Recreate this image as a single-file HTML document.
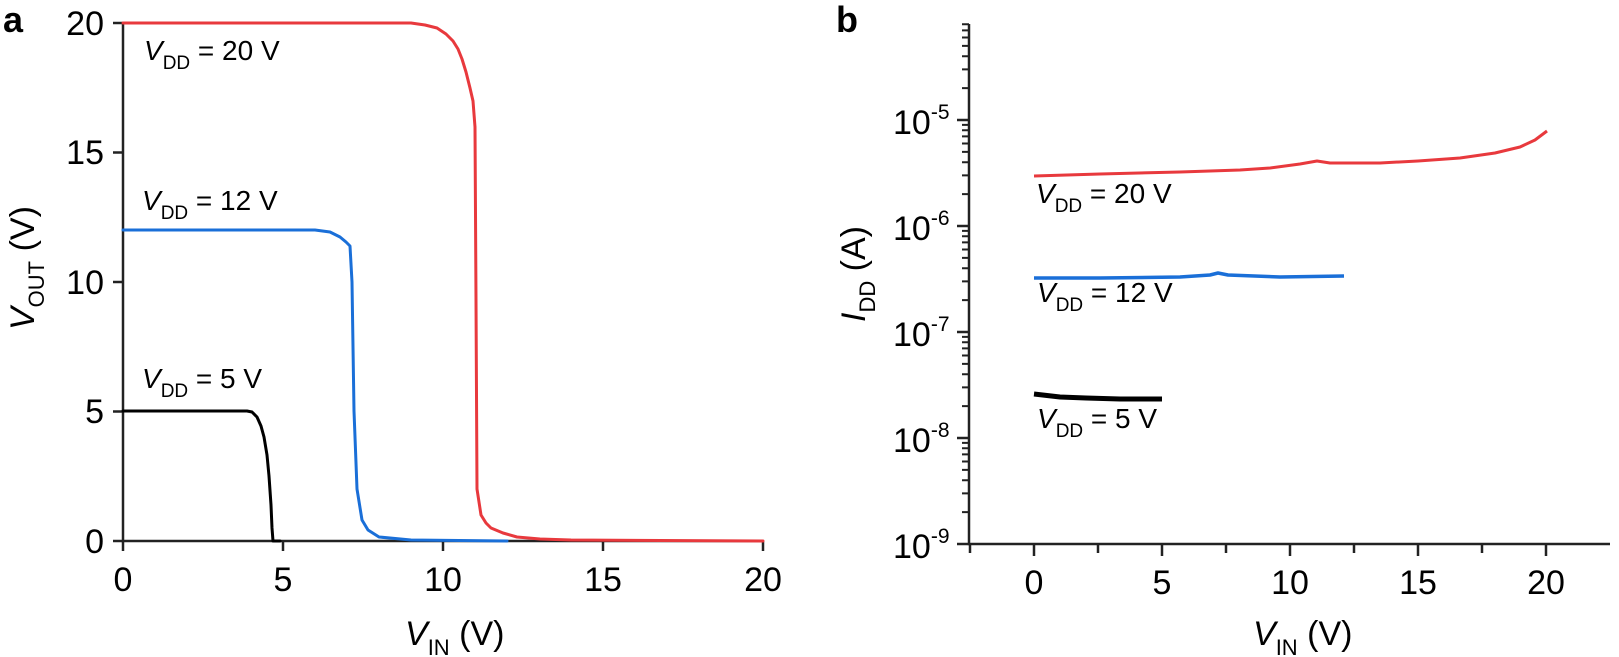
<!DOCTYPE html>
<html><head><meta charset="utf-8"><style>
html,body{margin:0;padding:0;background:#fff}
svg{display:block}
text{font-family:"Liberation Sans",Arial,sans-serif;fill:#000}
</style></head><body>
<svg width="1619" height="657" viewBox="0 0 1619 657" xmlns="http://www.w3.org/2000/svg">
<!-- Panel a -->
<text x="3" y="32" font-size="36" font-weight="bold">a</text>
<g stroke="#222" stroke-width="2.5" fill="none">
<path d="M123 23V541H763"/>
<path d="M113 23h10 M113 152.5h10 M113 282h10 M113 411.5h10 M113 541h10"/>
<path d="M123 541v10 M283 541v10 M443 541v10 M603 541v10 M763 541v10"/>
</g>
<g font-size="34" text-anchor="end">
<text x="104" y="35">20</text>
<text x="104" y="164">15</text>
<text x="104" y="294">10</text>
<text x="104" y="423">5</text>
<text x="104" y="553">0</text>
</g>
<g font-size="34" text-anchor="middle">
<text x="123" y="591">0</text>
<text x="283" y="591">5</text>
<text x="443" y="591">10</text>
<text x="603" y="591">15</text>
<text x="763" y="591">20</text>
</g>
<text x="405" y="645" font-size="34"><tspan font-style="italic">V</tspan><tspan font-size="22" dy="10">IN</tspan><tspan dy="-10"> (V)</tspan></text>
<text transform="translate(34,330) rotate(-90)" font-size="34"><tspan font-style="italic">V</tspan><tspan font-size="22" dy="10">OUT</tspan><tspan dy="-10"> (V)</tspan></text>
<g font-size="28">
<text x="144" y="60"><tspan font-style="italic">V</tspan><tspan font-size="19" dy="9">DD</tspan><tspan dy="-9"> = 20 V</tspan></text>
<text x="142" y="210"><tspan font-style="italic">V</tspan><tspan font-size="19" dy="9">DD</tspan><tspan dy="-9"> = 12 V</tspan></text>
<text x="142" y="388"><tspan font-style="italic">V</tspan><tspan font-size="19" dy="9">DD</tspan><tspan dy="-9"> = 5 V</tspan></text>
</g>
<g fill="none" stroke-width="3" stroke-linejoin="round" stroke-linecap="round">
<polyline stroke="#e8393d" points="123,23 411,23 425,25 437,28 446,34 453,41 458,49 462,59 466,72 470,88 473,101 475,127 476,300 477,489 481,515 486,523 491,528 503,533 517,537 540,539 571,540 763,541"/>
<polyline stroke="#1a6fd8" points="123,230 315,230 330,232 340,237 346,242 350,246 352,282 354,411 357,489 362,520 368,530 379,537 411,540 507,541"/>
<polyline stroke="#000" points="123,411 247,411 252,412 257,417 261,426 264,437 267,455 269,476 271,505 272,528 273,541 280,541"/>
</g>

<!-- Panel b -->
<text x="836" y="32" font-size="36" font-weight="bold">b</text>
<g stroke="#222" stroke-width="2.5" fill="none">
<path d="M969 24V544H1610"/>
<path d="M957 544h12 M957 438h12 M957 332h12 M957 226h12 M957 120h12"/>
<path d="M1034 544v12 M1162 544v12 M1290 544v12 M1418 544v12 M1546 544v12"/>
<path d="M970 544v9 M1098 544v9 M1226 544v9 M1354 544v9 M1482 544v9"/>
</g>
<g stroke="#222" stroke-width="2" fill="none">
<g transform="translate(0,544)"><path d="M962 -31.9h7M962 -50.6h7M962 -63.8h7M962 -74.1h7M962 -82.5h7M962 -89.6h7M962 -95.7h7M962 -101.1h7"/></g>
<g transform="translate(0,438)"><path d="M962 -31.9h7M962 -50.6h7M962 -63.8h7M962 -74.1h7M962 -82.5h7M962 -89.6h7M962 -95.7h7M962 -101.1h7"/></g>
<g transform="translate(0,332)"><path d="M962 -31.9h7M962 -50.6h7M962 -63.8h7M962 -74.1h7M962 -82.5h7M962 -89.6h7M962 -95.7h7M962 -101.1h7"/></g>
<g transform="translate(0,226)"><path d="M962 -31.9h7M962 -50.6h7M962 -63.8h7M962 -74.1h7M962 -82.5h7M962 -89.6h7M962 -95.7h7M962 -101.1h7"/></g>
<g transform="translate(0,120)"><path d="M962 -31.9h7M962 -50.6h7M962 -63.8h7M962 -74.1h7M962 -82.5h7M962 -89.6h7M962 -95.7h7"/></g>
</g>
<g font-size="34">
<text x="893" y="134">10<tspan font-size="21" dy="-15">-5</tspan></text>
<text x="893" y="240">10<tspan font-size="21" dy="-15">-6</tspan></text>
<text x="893" y="346">10<tspan font-size="21" dy="-15">-7</tspan></text>
<text x="893" y="452">10<tspan font-size="21" dy="-15">-8</tspan></text>
<text x="893" y="558">10<tspan font-size="21" dy="-15">-9</tspan></text>
</g>
<g font-size="34" text-anchor="middle">
<text x="1034" y="594">0</text>
<text x="1162" y="594">5</text>
<text x="1290" y="594">10</text>
<text x="1418" y="594">15</text>
<text x="1546" y="594">20</text>
</g>
<text x="1253" y="645" font-size="34"><tspan font-style="italic">V</tspan><tspan font-size="22" dy="10">IN</tspan><tspan dy="-10"> (V)</tspan></text>
<text transform="translate(865,322) rotate(-90)" font-size="34"><tspan font-style="italic">I</tspan><tspan font-size="22" dy="10">DD</tspan><tspan dy="-10"> (A)</tspan></text>
<g font-size="28">
<text x="1036" y="203"><tspan font-style="italic">V</tspan><tspan font-size="19" dy="9">DD</tspan><tspan dy="-9"> = 20 V</tspan></text>
<text x="1037" y="302"><tspan font-style="italic">V</tspan><tspan font-size="19" dy="9">DD</tspan><tspan dy="-9"> = 12 V</tspan></text>
<text x="1037" y="428"><tspan font-style="italic">V</tspan><tspan font-size="19" dy="9">DD</tspan><tspan dy="-9"> = 5 V</tspan></text>
</g>
<g fill="none" stroke-linejoin="round">
<polyline stroke="#e8393d" stroke-width="3" points="1034,176 1100,174 1180,172 1240,170 1270,168 1300,164 1317,161 1330,163 1380,163 1418,161 1460,158 1495,153 1520,147 1535,140 1547,131"/>
<polyline stroke="#1a6fd8" stroke-width="3.5" points="1034,278 1100,278 1180,277 1210,275 1218,273 1228,275 1280,277 1344,276"/>
<polyline stroke="#000" stroke-width="5" points="1034,394 1060,397 1086,398 1120,399 1162,399"/>
</g>
</svg>
</body></html>
